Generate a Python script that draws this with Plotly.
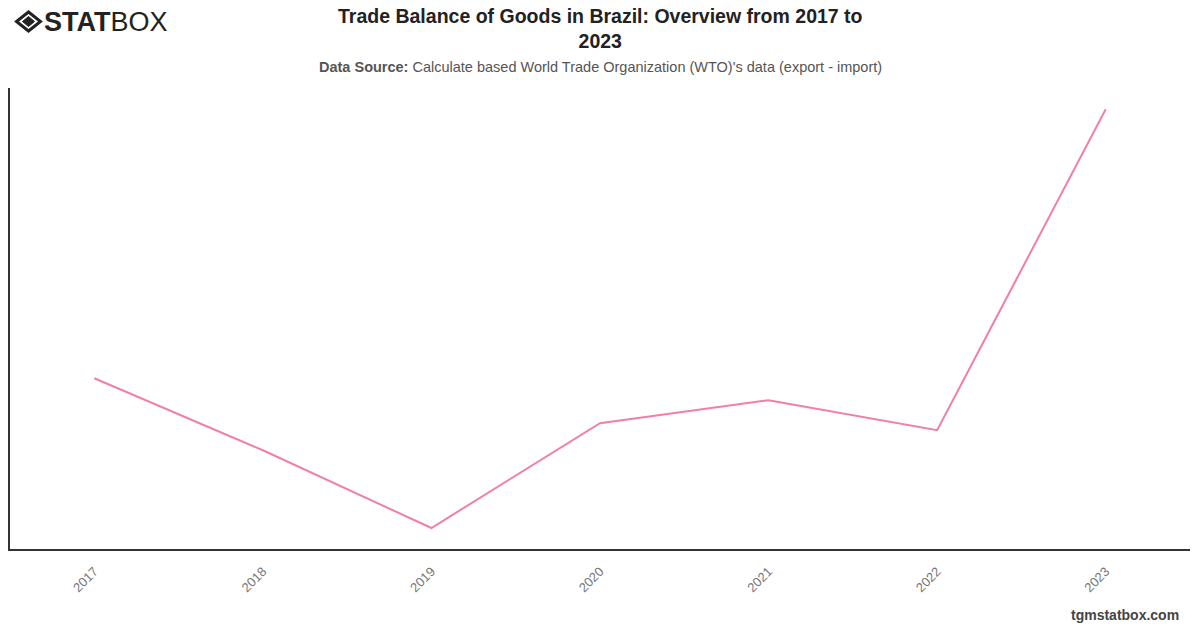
import plotly.graph_objects as go

years = ["2017", "2018", "2019", "2020", "2021", "2022", "2023"]
balance = [52.2, 39.7, 26.2, 44.4, 48.4, 43.2, 98.9]  # billion USD (estimated)

W, H = 1200, 628
L, R, T, B = 10, 10, 88, 79
pw, ph = W - L - R, H - T - B

def px(x):
    return (x - L) / pw

def py(y):
    return (H - B - y) / ph

fig = go.Figure()
fig.add_trace(go.Scatter(
    x=years, y=balance, mode="lines",
    line=dict(color="#F07FAA", width=2),
    hoverinfo="x+y",
))

font = "Liberation Sans, Arial, sans-serif"

def diamond(cx, cy, hw, hh):
    return (f"M {px(cx)} {py(cy - hh)} L {px(cx + hw)} {py(cy)} "
            f"L {px(cx)} {py(cy + hh)} L {px(cx - hw)} {py(cy)} Z")

shapes = [
    dict(type="path", xref="paper", yref="paper", path=diamond(28.5, 21.5, 12, 9.5),
         line=dict(color="#222", width=3), fillcolor="rgba(0,0,0,0)"),
    dict(type="path", xref="paper", yref="paper", path=diamond(28.5, 21.5, 6, 5),
         line=dict(color="#222", width=1), fillcolor="#222"),
]

annotations = [
    dict(text="<b>STAT</b>BOX", x=px(42), y=py(22), xref="paper", yref="paper",
         xanchor="left", yanchor="middle", showarrow=False,
         font=dict(family=font, size=27, color="#222")),
    dict(text="<b>Trade Balance of Goods in Brazil: Overview from 2017 to<br>2023</b>",
         x=0.5, y=py(28.5), xref="paper", yref="paper", xanchor="center", yanchor="middle",
         showarrow=False, font=dict(family=font, size=19.5, color="#222")),
    dict(text="<b>Data Source:</b> Calculate based World Trade Organization (WTO)'s data (export - import)",
         x=0.5, y=py(67), xref="paper", yref="paper", xanchor="center", yanchor="middle",
         showarrow=False, font=dict(family=font, size=14.5, color="#555")),
    dict(text="<b>tgmstatbox.com</b>", x=px(1181), y=py(615), xref="paper", yref="paper",
         xanchor="right", yanchor="middle", showarrow=False,
         font=dict(family=font, size=14, color="#444")),
]

fig.update_layout(
    width=W, height=H,
    margin=dict(l=L, r=R, t=T, b=B),
    paper_bgcolor="white", plot_bgcolor="white",
    showlegend=False,
    shapes=shapes,
    annotations=annotations,
    xaxis=dict(type="category", range=[-0.5, 6.5], showline=True, linecolor="#333",
               linewidth=1.5, showgrid=False, ticks="", tickangle=-45,
               ticklabelstandoff=8,
               tickfont=dict(family=font, size=13, color="#777"), zeroline=False),
    yaxis=dict(range=[22.56, 102.6], showline=True, linecolor="#333", linewidth=1.5,
               showgrid=False, showticklabels=False, ticks="", zeroline=False),
)

fig.write_html("out.html")
